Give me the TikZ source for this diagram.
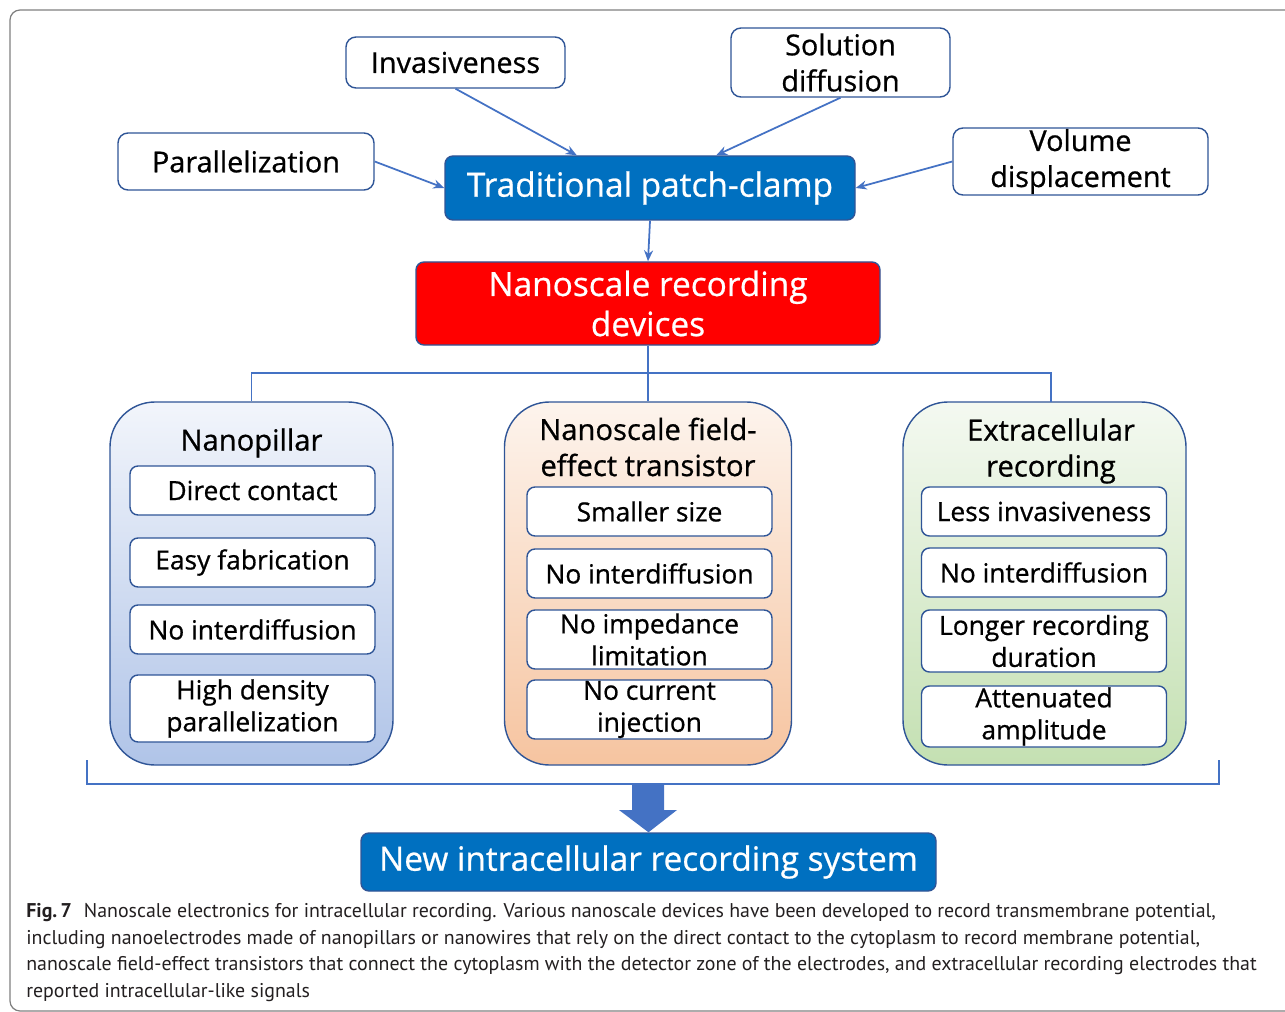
\documentclass[tikz,border=0pt]{standalone}
\usepackage{fontspec}
\setmainfont{Open Sans}
\newfontfamily\boxfont{Open Sans}[FakeBold=0.7]
\newfontfamily\capfont{PT Sans}
\usepackage{tikz}
\usetikzlibrary{positioning,calc,arrows.meta}

\definecolor{linkblue}{HTML}{4472C4}
\definecolor{boxedge}{HTML}{2F5597}
\definecolor{patchblue}{HTML}{0070C0}
\definecolor{framegray}{HTML}{7F7F7F}
\definecolor{captext}{HTML}{231F20}

\tikzset{
  note/.style={draw=boxedge, fill=white, line width=0.8pt, rounded corners=2mm, align=center,
    inner sep=0pt, font=\boxfont\fontsize{16.4}{20.5}\selectfont},
  headbox/.style={draw=boxedge, fill=patchblue, text=white, line width=0.8pt, rounded corners=1.6mm,
    align=center, inner sep=0pt, font=\boxfont\fontsize{19}{22.8}\selectfont},
  group/.style={draw=boxedge, line width=0.8pt, rounded corners=9mm, minimum width=#1*0.2mm,
    minimum height=363*0.2mm, inner sep=0pt},
  grouptitle/.style={align=center, inner sep=0pt, font=\boxfont\fontsize{16.6}{20.5}\selectfont},
  item/.style={draw=boxedge, fill=white, line width=0.8pt, rounded corners=1.6mm, align=center,
    inner sep=0pt, minimum width=245*0.2mm, font=\boxfont\fontsize{15}{18.2}\selectfont},
  link/.style={draw=linkblue, line width=1pt},
  linkarrow/.style={link, -{Stealth[length=2.2mm, width=1.8mm]}}
}

\begin{document}
\begin{tikzpicture}[x=0.2mm, y=-0.2mm]
\useasboundingbox (0,0) rectangle (1285,1012);
\draw[framegray, line width=0.7pt, rounded corners=2mm] (10,1011) rectangle (1330,10);

\node[note, minimum width=219*0.2mm, minimum height=51*0.2mm] (invas) at (455.5,62.5) {Invasiveness};
\node[note, minimum width=219*0.2mm, minimum height=69*0.2mm] (solut) at (840.5,62.5) {Solution\\diffusion};
\node[note, minimum width=256*0.2mm, minimum height=57*0.2mm] (paral) at (246,161.5) {Parallelization};
\node[note, minimum width=255*0.2mm, minimum height=67*0.2mm] (volum) at (1080.5,161.5) {Volume\\displacement};
\node[headbox, minimum width=410*0.2mm, minimum height=64*0.2mm] (patch) at (650,188) {Traditional patch-clamp};
\node[headbox, fill=red, minimum width=464*0.2mm, minimum height=83*0.2mm] (nano) at (648,303.5) {Nanoscale recording\\devices};

\draw[linkarrow] (invas.south) -- ($(patch.north west)!0.322!(patch.north east)$);
\draw[linkarrow] (solut.south) -- ($(patch.north west)!0.661!(patch.north east)$);
\draw[linkarrow] (paral.east) -- (patch.west);
\draw[linkarrow] (volum.west) -- (patch.east);
\draw[linkarrow] (patch.south) -- (nano.north);

\node[group=283, top color={rgb,255:red,242;green,245;blue,251}, bottom color={rgb,255:red,176;green,196;blue,232}] (pillar) at (251.5,583.5) {};
\node[group=287, top color={rgb,255:red,253;green,244;blue,237}, bottom color={rgb,255:red,246;green,196;blue,160}] (fet) at (648,583.5) {};
\node[group=283, top color={rgb,255:red,244;green,249;blue,241}, bottom color={rgb,255:red,196;green,224;blue,178}] (extra) at (1044.5,583.5) {};

\coordinate (hub) at (648,373);
\draw[link] (nano.south) -- (hub);
\draw[link] (hub) -| (pillar.north);
\draw[link] (hub) -- (fet.north);
\draw[link] (hub) -| (1051,402);

\node[grouptitle] (pillart) at (251.5,443) {Nanopillar};
\node[grouptitle] (fett) at (648,447) {Nanoscale field-\\effect transistor};
\node[grouptitle] (extrat) at (1051,451) {Extracellular\\recording};

\foreach \nm/\yy/\hh/\txt in {dcon/490.5/49/Direct contact, efab/562.5/49/Easy fabrication,
    pnoid/629.5/49/No interdiffusion, hdens/708.5/67/{High density\\parallelization}}
  \node[item, minimum height=\hh*0.2mm] (\nm) at (252.5,\yy) {\txt};
\foreach \nm/\yy/\hh/\txt in {ssize/511.5/49/Smaller size, fnoid/573.5/49/No interdiffusion,
    noimp/639.5/59/{No impedance\\limitation}, nocur/709.5/59/{No current\\injection}}
  \node[item, minimum height=\hh*0.2mm] (\nm) at (649.5,\yy) {\txt};
\foreach \nm/\yy/\hh/\txt in {lessinv/511.5/49/Less invasiveness, enoid/572.5/49/No interdiffusion,
    longer/641/62/{Longer recording\\duration}, atten/716.5/61/{Attenuated\\amplitude}}
  \node[item, minimum height=\hh*0.2mm] (\nm) at (1044,\yy) {\txt};

\coordinate (brl) at (87,760);
\coordinate (brr) at (1219,760);
\draw[link, line width=1.2pt] (brl) -- ++(0,24) -| (brr);

\node[headbox, minimum width=575*0.2mm, minimum height=58*0.2mm] (newrec) at (648.5,862) {New intracellular recording system};
\fill[linkblue] (632,784) -- (664,784) -- (664,810) -- (677,810) -- (newrec.north) -- (619,810) -- (632,810) -- cycle;

\node[anchor=north west, inner sep=0pt, align=left, text=captext, font=\capfont\fontsize{11.32}{15.1}\selectfont] (caption) at (26,903)
  {\textbf{Fig.\,7}\hspace{0.6em}Nanoscale electronics for intracellular recording. Various nanoscale devices have been developed to record transmembrane potential,\\
  including nanoelectrodes made of nanopillars or nanowires that rely on the direct contact to the cytoplasm to record membrane potential,\\
  nanoscale field-effect transistors that connect the cytoplasm with the detector zone of the electrodes, and extracellular recording electrodes that\\
  reported intracellular-like signals};
\end{tikzpicture}
\end{document}
